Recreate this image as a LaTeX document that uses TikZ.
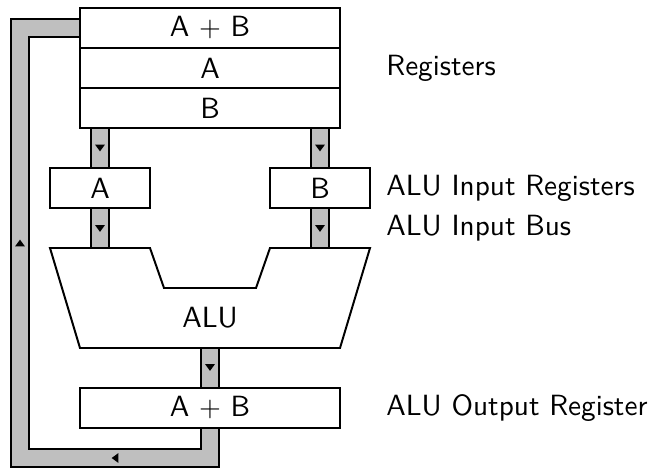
\documentclass[tikz,border=0pt]{standalone}
\usetikzlibrary{decorations.markings,backgrounds}
\tikzset{
reg/.style={
	  draw, fill=white, inner sep=0pt,
	    minimum height=5mm, minimum width=#1},
bus/.style={
	  draw=black!25, line width=5.7pt,
	    preaction={draw=black, line width=7.1pt}},
flow/.style={
	  postaction={decorate, decoration={markings, mark=at position #1 with
	    {\fill[black] (1.2pt,0) -- (-1.2pt,1.75pt) -- (-1.2pt,-1.75pt) -- cycle;}}}},
note/.style={anchor=west}
}

\begin{document}
\begin{tikzpicture}[x=5mm, y=5mm, line width=0.7pt,
	font=\sffamily\fontsize{10.4pt}{12.5pt}\selectfont]
	\useasboundingbox (0,0) rectangle (16.3,11.7);
	\node[reg=3.25cm] (regsum) at (5.25,11) {A $+$ B};
	\node[reg=3.25cm] (rega) at (5.25,10) {A};
	\node[reg=3.25cm] (regb) at (5.25,9) {B};
	\node[reg=1.25cm] (ina) at (2.5,7) {A};
	\node[reg=1.25cm] (inb) at (8,7) {B};
	\draw[fill=white] (1.25,5.5) coordinate (alunw) -- (3.75,5.5) -- (4.1,4.5)
		-- (6.4,4.5) -- (6.75,5.5) -- (9.25,5.5) -- (8.5,3) -- (2,3) coordinate (alusw) -- cycle;
	\node (alu) at (5.25,3.75) {ALU};
	\node[reg=3.25cm] (outsum) at (5.25,1.5) {A $+$ B};
	% labels
	\node[note] (lregs) at (9.4,10) {Registers};
	\node[note] (linregs) at (9.4,7) {ALU Input Registers};
	\node[note] (linbus) at (9.4,6) {ALU Input Bus};
	\node[note] (loutreg) at (9.4,1.5) {ALU Output Register};
	% buses
	\begin{scope}[on background layer]
		\draw[bus, flow=0.5] (ina |- regb.south) -- (ina.north);
		\draw[bus, flow=0.5] (inb |- regb.south) -- (inb.north);
		\draw[bus, flow=0.5] (ina.south) -- (ina |- alunw);
		\draw[bus, flow=0.5] (inb.south) -- (inb |- alunw);
		\draw[bus, flow=0.5] (outsum |- alusw) -- (outsum.north);
		\draw[bus, flow=1.55cm, flow=5.425cm] (outsum.south) |- (0.5,0.25) |- (regsum.west);
	\end{scope}
\end{tikzpicture}
\end{document}
